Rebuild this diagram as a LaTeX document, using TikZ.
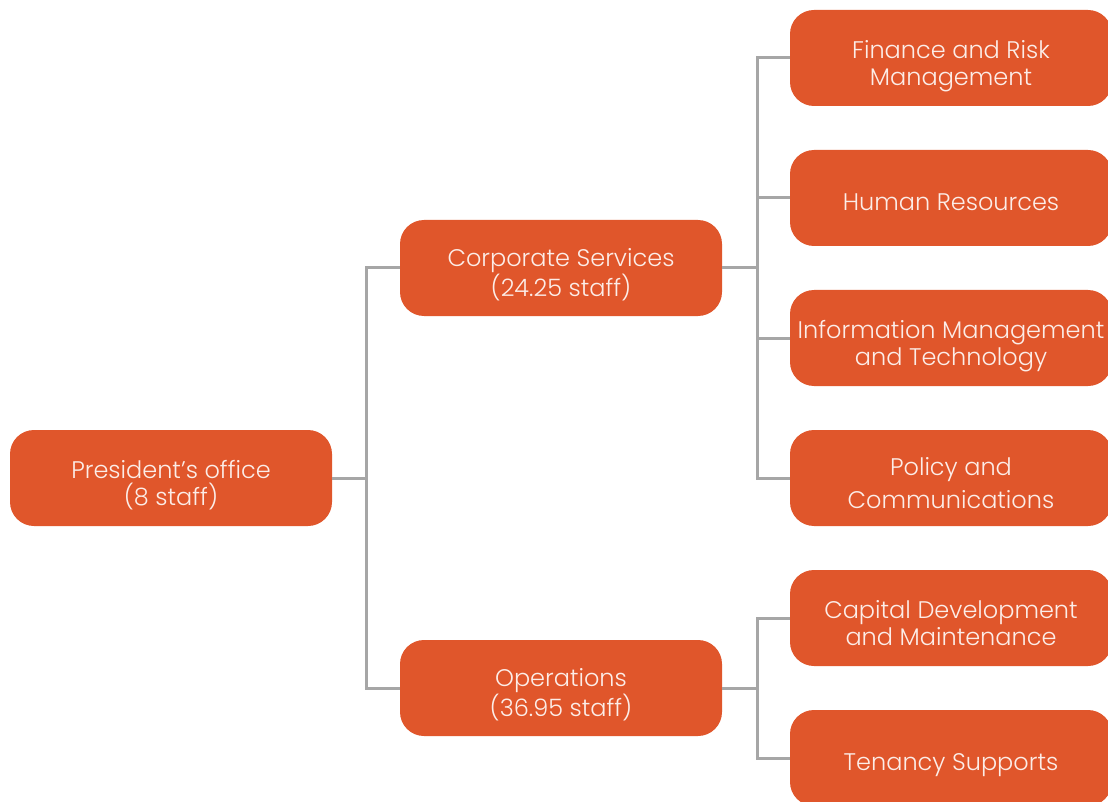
\documentclass[tikz,border=0pt]{standalone}
\usepackage{fontspec}
\setmainfont{Poppins}[UprightFont=* Light]
\usetikzlibrary{positioning}

\definecolor{unitorange}{HTML}{E0562B}
\definecolor{linkgrey}{HTML}{A6A6A6}
\definecolor{unittext}{HTML}{FCEDE8}

\begin{document}
\begin{tikzpicture}[x=1pt,y=-1pt]
\tikzset{unit/.style={fill=unitorange,rounded corners=24pt,minimum width=322pt,minimum height=96pt,inner sep=0pt},
  unitname/.style={inner sep=0pt,align=center,text=unittext,font=\fontsize{24}{27}\selectfont,
    text depth=0pt,yshift=-4.5pt},
  link/.style={draw=linkgrey,line width=3pt}}
\useasboundingbox (0,0) rectangle (1108,802);
% top level
\node[unit,label={[unitname]center:President’s office\\(8 staff)}] (pres) at (171,478) {};
% directorates
\node[unit,label={[unitname]center:Corporate Services\\(24.25 staff)}] (corp) at (561,268) {};
\node[unit,label={[unitname]center:Operations\\(36.95 staff)}] (ops) at (561,688) {};
% teams
\node[unit,label={[unitname]center:Finance and Risk\\Management}] (fin) at (951,58) {};
\node[unit,label={[unitname]center:Human Resources}] (hr) at (951,198) {};
\node[unit,label={[unitname]center:Information Management\\and Technology}] (imt) at (951,338) {};
\node[unit,label={[unitname]center:Policy and\\[6pt]Communications}] (pol) at (951,478) {};
\node[unit,label={[unitname]center:Capital Development\\and Maintenance}] (cap) at (951,618) {};
\node[unit,label={[unitname]center:Tenancy Supports}] (ten) at (951,758) {};
% connectors
\foreach \t in {corp,ops}
  \draw[link] (pres.east) -- ++(34,0) |- (\t.west);
\foreach \t in {fin,hr,imt,pol}
  \draw[link] (corp.east) -- ++(35,0) |- (\t.west);
\foreach \t in {cap,ten}
  \draw[link] (ops.east) -- ++(35,0) |- (\t.west);
\end{tikzpicture}
\end{document}
